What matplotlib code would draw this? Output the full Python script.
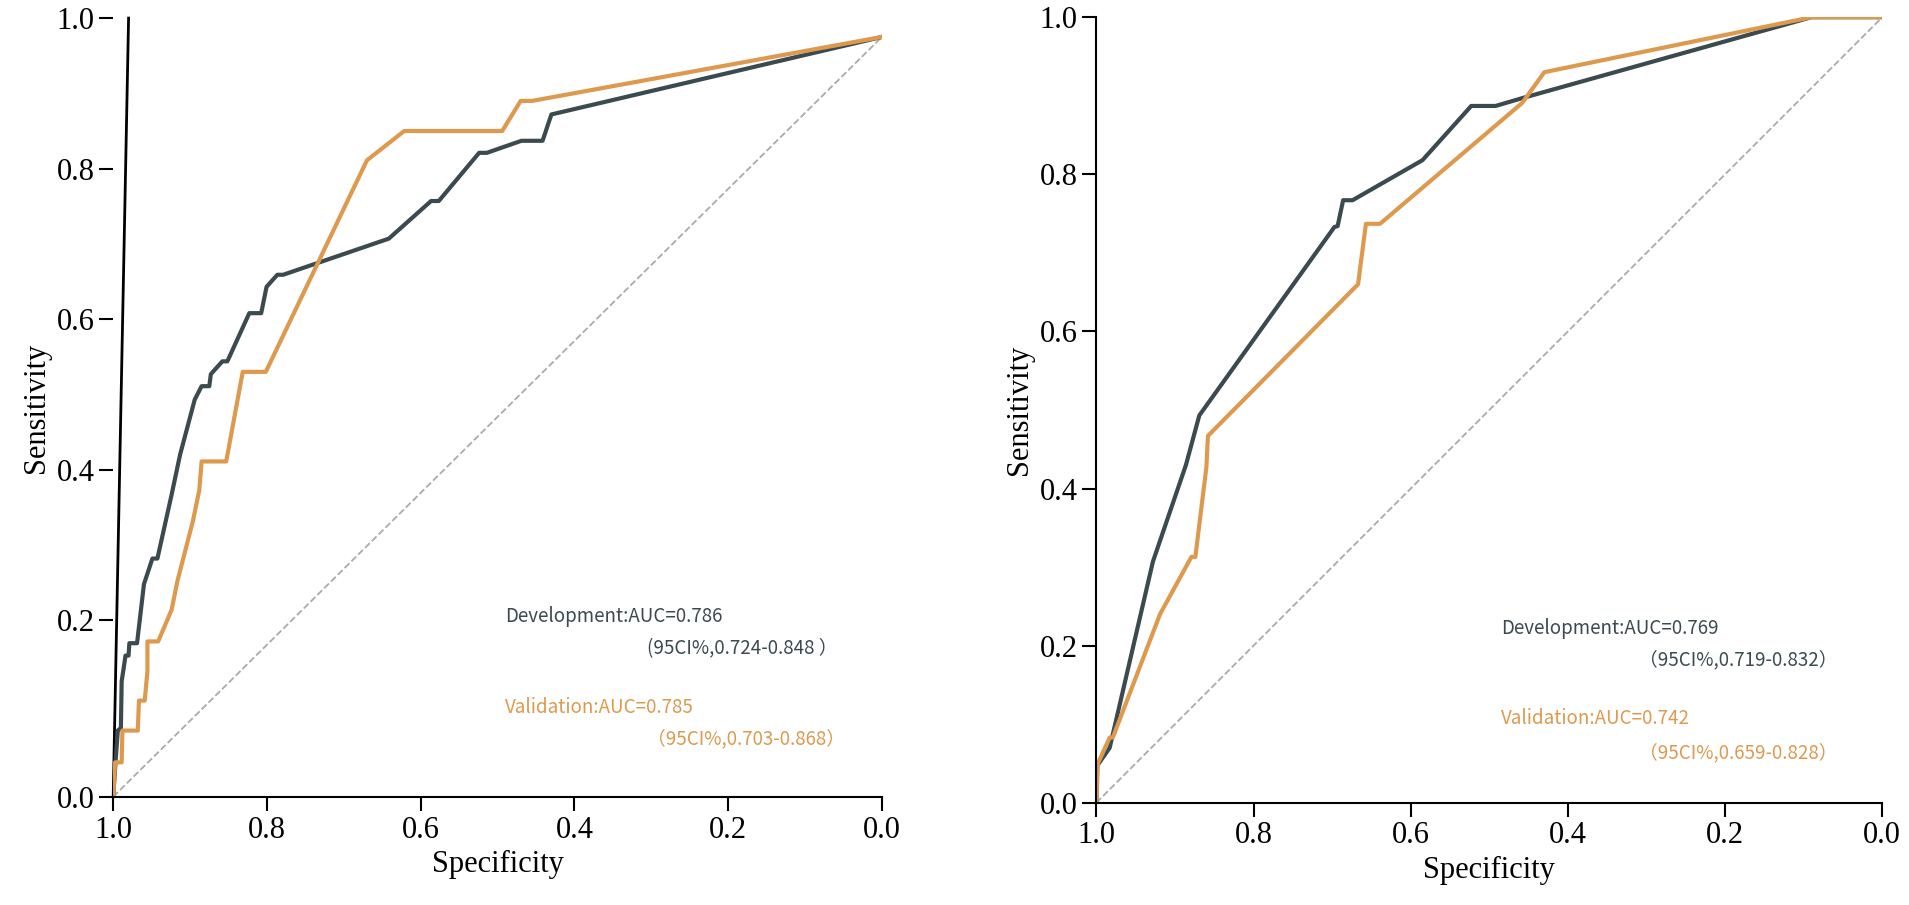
import numpy as np
import matplotlib.pyplot as plt

# ROC curves: specificity, sensitivity
dev1_spec = [1.0, 0.9965, 0.994, 0.990, 0.989, 0.9865, 0.984, 0.980, 0.979, 0.969, 0.960, 0.949, 0.9425,
             0.924, 0.913, 0.894, 0.885, 0.875, 0.873, 0.858, 0.8515, 0.823, 0.8075, 0.8005, 0.7865,
             0.779, 0.6415, 0.5865, 0.5765, 0.524, 0.514, 0.469, 0.4415, 0.430, 0.0]
dev1_sens = [0.0, 0.045, 0.075, 0.078, 0.131, 0.145, 0.160, 0.160, 0.174, 0.174, 0.248, 0.282, 0.282,
             0.367, 0.420, 0.493, 0.511, 0.511, 0.527, 0.544, 0.544, 0.608, 0.608, 0.643, 0.659,
             0.659, 0.707, 0.757, 0.757, 0.821, 0.821, 0.837, 0.837, 0.872, 0.975]
val1_spec = [1.0, 0.9975, 0.989, 0.988, 0.968, 0.9665, 0.959, 0.9555, 0.9555, 0.9415, 0.924, 0.9165,
             0.8965, 0.888, 0.885, 0.853, 0.8315, 0.8015, 0.670, 0.6215, 0.494, 0.470, 0.455, 0.0]
val1_sens = [0.0, 0.039, 0.039, 0.075, 0.075, 0.109, 0.109, 0.142, 0.176, 0.176, 0.214, 0.252,
             0.331, 0.373, 0.411, 0.411, 0.530, 0.530, 0.811, 0.850, 0.850, 0.890, 0.890, 0.975]

dev2_spec = [1.0, 0.999, 0.983, 0.928, 0.886, 0.869, 0.697, 0.693, 0.686, 0.674, 0.585, 0.523, 0.492,
             0.458, 0.090, 0.0]
dev2_sens = [0.0, 0.047, 0.070, 0.307, 0.430, 0.493, 0.733, 0.734, 0.767, 0.767, 0.818, 0.887, 0.887,
             0.897, 1.0, 1.0]
val2_spec = [1.0, 0.998, 0.983, 0.979, 0.919, 0.879, 0.874, 0.860, 0.858, 0.667, 0.657, 0.639, 0.458,
             0.430, 0.090, 0.0]
val2_sens = [0.0, 0.050, 0.083, 0.083, 0.240, 0.313, 0.313, 0.427, 0.467, 0.660, 0.737, 0.737, 0.891,
             0.930, 1.0, 1.0]

dark = '#3b4a4f'
orange = '#dd9a4f'
serif = 'Liberation Serif'
sans = ['Noto Sans CJK SC', 'DejaVu Sans']


# the left panel's y axis is stretched below 0.2 in the original
def fwd(y):
    y = np.asarray(y, dtype=float)
    return np.where(y < 0.2, y * 340 / 0.2, 340 + (y - 0.2) * 290 / 0.2)


def inv(p):
    p = np.asarray(p, dtype=float)
    return np.where(p < 340, p * 0.2 / 340, 0.2 + (p - 340) * 0.2 / 290)


fig = plt.figure(figsize=(19.09, 9.05), dpi=100)
ax1 = fig.add_axes([0.0593, 0.1196, 0.4027, 0.8604])
ax2 = fig.add_axes([0.5743, 0.113, 0.4117, 0.868])
ax1.set_yscale('function', functions=(fwd, inv))


def style(ax):
    ax.set_xlim(1.0, 0.0)
    ax.set_ylim(0.0, 1.0)
    ax.spines['top'].set_visible(False)
    ax.spines['right'].set_visible(False)
    for s in ax.spines.values():
        s.set_linewidth(1.5)
    ax.set_xticks([1.0, 0.8, 0.6, 0.4, 0.2, 0.0])
    ax.set_yticks([0.0, 0.2, 0.4, 0.6, 0.8, 1.0])
    ax.xaxis.set_major_formatter(plt.FormatStrFormatter('%.1f'))
    ax.yaxis.set_major_formatter(plt.FormatStrFormatter('%.1f'))
    ax.yaxis.set_minor_locator(plt.NullLocator())
    ax.tick_params(direction='out', length=10, width=1.5, labelsize=22)
    for lab in ax.get_xticklabels() + ax.get_yticklabels():
        lab.set_fontfamily(serif)
    ax.set_xlabel('Specificity', fontsize=22, fontfamily=serif)
    ax.set_ylabel('Sensitivity', fontsize=22, fontfamily=serif)


style(ax1)
style(ax2)
ax1.plot([1, 0], [0, 0.975], ls='--', color='#aaaaaa', lw=1.3)
ax2.plot([1, 0], [0, 1], ls='--', color='#aaaaaa', lw=1.3)

# left panel: slanted axis line instead of the normal left spine
ax1.spines['left'].set_visible(False)
ax1.plot([1.0, 0.98], [0.0, 1.0], color='black', lw=2, clip_on=False)

ax1.plot(dev1_spec, dev1_sens, color=dark, lw=3)
ax1.plot(val1_spec, val1_sens, color=orange, lw=3)
ax2.plot(dev2_spec, dev2_sens, color=dark, lw=3)
ax2.plot(val2_spec, val2_sens, color=orange, lw=3)

t1 = ax1.transAxes
ax1.text(0.51, 0.225, 'Development:AUC=0.786', color=dark, fontsize=13.5, family=sans, transform=t1)
ax1.text(0.695, 0.183, '(95CI%,0.724-0.848 ）', color=dark, fontsize=13.5, family=sans, transform=t1)
ax1.text(0.51, 0.108, 'Validation:AUC=0.785', color=orange, fontsize=13.5, family=sans, transform=t1)
ax1.text(0.695, 0.067, '（95CI%,0.703-0.868）', color=orange, fontsize=13.5, family=sans, transform=t1)

ax2.text(0.485, 0.215, 'Development:AUC=0.769', color=dark, fontsize=13.5, family=sans)
ax2.text(0.31, 0.175, '（95CI%,0.719-0.832）', color=dark, fontsize=13.5, family=sans)
ax2.text(0.485, 0.1, 'Validation:AUC=0.742', color=orange, fontsize=13.5, family=sans)
ax2.text(0.31, 0.057, '（95CI%,0.659-0.828）', color=orange, fontsize=13.5, family=sans)

fig.savefig('out.png', dpi=100)
